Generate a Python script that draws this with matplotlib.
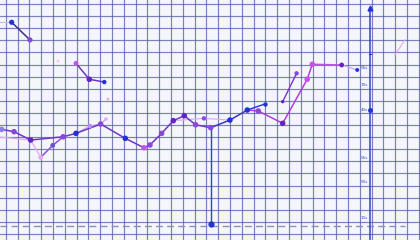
import numpy as np
import matplotlib
matplotlib.use("Agg")
import matplotlib.pyplot as plt

# ---- data (grid units) ----
upper_x = [-0.5, 0.49, 2.04]
upper_y = [17.49, 17.49, 16.03]

mid_x = [5.94, 7.07, 8.34]
mid_y = [14.10, 12.78, 12.55]

main_x = [-0.36, 0.69, 2.10, 4.86, 5.94, 8.03, 10.12, 11.70, 12.21, 13.20, 14.19,
          15.12, 16.08, 17.36, 18.99, 20.46, 21.39, 23.46, 25.54, 25.97]
main_y = [8.64, 8.45, 7.76, 8.03, 8.31, 9.08, 7.90, 7.12, 7.35, 8.31, 9.36,
          9.77, 9.02, 8.78, 9.41, 10.24, 10.16, 9.14, 12.78, 14.02]

tail_x = [25.97, 28.46, 29.78]
tail_y = [14.02, 13.96, 13.55]

second_x = [-0.5, 2.10, 2.95, 3.97, 4.86]
second_y = [8.0, 7.76, 6.33, 7.32, 8.03]

light_x = [5.94, 7.13, 8.03, 8.48]
light_y = [8.31, 8.92, 9.08, 9.50]

light2_x = [14.19, 16.79, 18.99]
light2_y = [9.36, 9.55, 9.41]

spur_x = [20.46, 21.96]
spur_y = [10.24, 10.74]

rise_x = [23.46, 24.64]
rise_y = [10.93, 13.27]

stray_x = [8.65, 8.48, 4.42]
stray_y = [11.15, 9.50, 14.28]

faint_seg_x = [32.97, 33.82]
faint_seg_y = [14.79, 16.03]

drop_x = 17.36
drop_top = 8.78
drop_bottom = 0.82
baseline_y = 0.65

axis_x = 30.85
tick_vals = [13.71, 12.31, 10.24, 6.27, 4.29, 1.31]
tick_labels = ["55s", "70s", "40s", "55s", "50s", "10s"]

# ---- colors ----
BLUE = "#2233d6"
VIOLET = "#8a48d8"
PURPLE = "#6424c4"
MAGENTA = "#c454e6"
LPINK = "#e4a8ec"
NAVY = "#3a2d92"

fig = plt.figure(figsize=(4.2, 2.4), dpi=100)
ax = fig.add_axes([0, 0, 1, 1])
ax.set_facecolor("#f5f5fc")
ax.set_xlim(-0.5, 35.1)
ax.set_ylim(-0.5, 19.33)
ax.set_xticks(np.arange(0, 36, 1))
ax.set_yticks(np.arange(0, 20, 1))
ax.grid(True, color="#4e54a4", linewidth=0.85, alpha=0.72)
ax.tick_params(length=0, labelbottom=False, labelleft=False)
for s in ax.spines.values():
    s.set_visible(False)

# dashed baseline
ax.plot([-0.5, 33.8], [baseline_y, baseline_y], ls=(0, (5, 3)), color="#8a8fbf", lw=1.0, zorder=2)

# vertical axis
ax.plot([axis_x, axis_x], [-0.5, 18.6], color="#3344cc", lw=1.1, zorder=3)
ax.plot([axis_x], [18.7], marker="^", color="#2233d6", ms=3.5, zorder=4)
ax.plot([axis_x], [10.24], marker="o", color="#2233d6", ms=2.5, zorder=4)
ax.plot([axis_x - 0.1, axis_x + 0.1], [14.87, 14.87], color="#2233d6", lw=0.8, zorder=4)
for v, t in zip(tick_vals, tick_labels):
    ax.text(axis_x - 0.15, v, t, fontsize=3, color="#4050c0", ha="right", va="center", zorder=4)

# drop line
ax.plot([drop_x, drop_x], [drop_bottom, drop_top], color="#3344cc", lw=1.0, zorder=3)
ax.plot([drop_x], [drop_bottom], marker="o", color=BLUE, ms=3.5, zorder=4)

# faint lines
ax.plot(second_x, second_y, color=LPINK, lw=0.9, zorder=3)
ax.plot(light_x, light_y, color="#c9a6ee", lw=0.9, zorder=3)
ax.plot(light2_x, light2_y, color="#d9b0ee", lw=0.9, zorder=3)
ax.plot(faint_seg_x, faint_seg_y, color=LPINK, lw=0.8, zorder=3)
ax.plot(upper_x[:2], upper_y[:2], color="#c0c0d8", lw=0.8, zorder=3)

# main lines
ax.plot(upper_x[1:], upper_y[1:], color=NAVY, lw=1.1, zorder=4)
ax.plot(mid_x, mid_y, color="#6a38b8", lw=1.1, zorder=4)
ax.plot(main_x[:14], main_y[:14], color="#7038c0", lw=1.1, zorder=4)
ax.plot(main_x[13:16], main_y[13:16], color="#3a3ab8", lw=1.1, zorder=4)
ax.plot(main_x[15:], main_y[15:], color="#b040d8", lw=1.1, zorder=4)
ax.plot(tail_x[:2], tail_y[:2], color="#c050e0", lw=1.1, zorder=4)
ax.plot(tail_x[1:], tail_y[1:], color="#c8a8e8", lw=0.9, zorder=4)
ax.plot(spur_x, spur_y, color=BLUE, lw=1.0, zorder=4)
ax.plot(rise_x, rise_y, color="#7a34c8", lw=1.0, zorder=4)
ax.plot(second_x[2:], second_y[2:], color="#8a50d8", lw=1.0, zorder=4)

# markers
ax.scatter(upper_x[1:], upper_y[1:], c=[BLUE, VIOLET], s=14, zorder=5, linewidths=0)
ax.scatter(mid_x, mid_y, c=[MAGENTA, PURPLE, BLUE], s=[12, 16, 10], zorder=5, linewidths=0)
main_c = ["#8a80ec", VIOLET, PURPLE, VIOLET, BLUE, VIOLET, BLUE, MAGENTA, VIOLET, VIOLET,
          PURPLE, PURPLE, VIOLET, VIOLET, BLUE, BLUE, VIOLET, PURPLE, MAGENTA, MAGENTA]
ax.scatter(main_x, main_y, c=main_c, s=16, zorder=5, linewidths=0)
ax.scatter(tail_x[1:], tail_y[1:], c=[PURPLE, BLUE], s=[12, 8], zorder=5, linewidths=0)
ax.scatter(second_x[2:4], second_y[2:4], c=[LPINK, "#6a50d8"], s=12, zorder=5, linewidths=0)
ax.scatter([7.13, 16.79], [8.92, 9.55], c=["#b890f0", VIOLET], s=10, zorder=5, linewidths=0)
ax.scatter(spur_x[1:], spur_y[1:], c=[BLUE], s=10, zorder=5, linewidths=0)
ax.scatter(rise_x, rise_y, c=[PURPLE, VIOLET], s=[6, 10], zorder=5, linewidths=0)
ax.scatter(stray_x, stray_y, c=[LPINK, LPINK, "#f0c8f0"], s=[4, 6, 4], zorder=5, linewidths=0)

fig.savefig("out.png", dpi=100)
